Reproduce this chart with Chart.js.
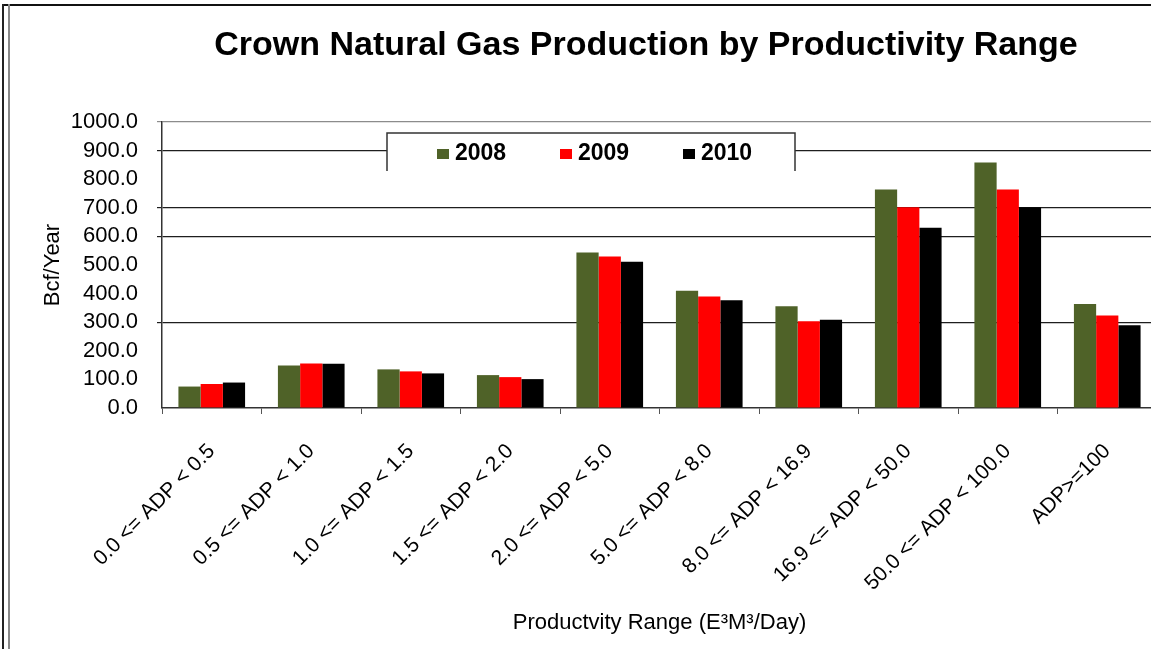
<!DOCTYPE html>
<html>
<head>
<meta charset="utf-8">
<title>Crown Natural Gas Production by Productivity Range</title>
<script src="https://cdn.jsdelivr.net/npm/chart.js@4.4.1/dist/chart.umd.min.js"></script>
<style>
  html, body { margin: 0; padding: 0; background: #fff; overflow: hidden; }
  #wrap { position: relative; width: 1151px; height: 649px; overflow: hidden; }
  #chart-box { position: absolute; left: 0; top: 0; width: 1160px; height: 649px; }
  h1 {
    position: absolute; left: 0; top: 26px; width: 1292px; margin: 0;
    text-align: center; font: bold 34px 'Liberation Sans', Arial, sans-serif;
    line-height: 1; color: #000;
  }
  .frame-top { position: absolute; left: 3px; top: 4px; right: 0; border-top: 2px solid #111; }
  .frame-left { position: absolute; left: 2px; top: 4px; bottom: 0; width: 4px;
    border-left: 2px solid #222; border-right: 2px solid #888; }
</style>
</head>
<body>
<div id="wrap">
  <div id="chart-box"><canvas id="gasChart" width="1160" height="649"></canvas></div>
  <h1>Crown Natural Gas Production by Productivity Range</h1>
  <div class="frame-top"></div>
  <div class="frame-left"></div>
</div>
<script>
// Productivity ranges (E3M3/day) and yearly production in Bcf
const categories = [
  '0.0 <= ADP < 0.5', '0.5 <= ADP < 1.0', '1.0 <= ADP < 1.5', '1.5 <= ADP < 2.0',
  '2.0 <= ADP < 5.0', '5.0 <= ADP < 8.0', '8.0 <= ADP < 16.9', '16.9 <= ADP < 50.0',
  '50.0 <= ADP < 100.0', 'ADP>=100'
];
const years = ['2008', '2009', '2010'];
const prod2008 = [75, 149, 135, 115, 544, 410, 356, 764, 858, 364];
const prod2009 = [84, 156, 128, 108, 530, 390, 303, 702, 764, 323];
const prod2010 = [89, 155, 121, 101, 511, 377, 309, 630, 702, 289];
const yearColors = ['#4f6228', '#ff0000', '#000000'];

// only these levels get a horizontal rule
const ruledLevels = [300, 600, 700, 900, 1000];

const FONT = "'Liberation Sans', Arial, sans-serif";

// boxed legend sitting on top of the plot area
const boxedLegend = {
  id: 'boxedLegend',
  afterDraw(chart) {
    const { ctx, chartArea } = chart;
    const left = chartArea.left + 225;
    const top = chartArea.top + 11;
    const w = 408, h = 38;
    ctx.save();
    ctx.fillStyle = '#fff';
    ctx.fillRect(left, top, w, h);
    ctx.strokeStyle = '#333';
    ctx.lineWidth = 1.5;
    ctx.beginPath();
    ctx.moveTo(left, top + h);
    ctx.lineTo(left, top);
    ctx.lineTo(left + w, top);
    ctx.lineTo(left + w, top + h);
    ctx.stroke();

    ctx.font = 'bold 23px ' + FONT;
    ctx.textBaseline = 'middle';
    chart.data.datasets.forEach((ds, i) => {
      const x = left + 50 + i * 123;
      const y = top + 21;
      ctx.fillStyle = ds.backgroundColor;
      ctx.fillRect(x, y - 5, 12, 10);
      ctx.fillStyle = '#000';
      ctx.fillText(ds.label, x + 18, y);
    });
    ctx.restore();
  }
};

const ctx = document.getElementById('gasChart').getContext('2d');
new Chart(ctx, {
  type: 'bar',
  data: {
    labels: categories,
    datasets: [
      { label: years[0], data: prod2008, backgroundColor: yearColors[0] },
      { label: years[1], data: prod2009, backgroundColor: yearColors[1] },
      { label: years[2], data: prod2010, backgroundColor: yearColors[2] }
    ]
  },
  options: {
    responsive: false,
    animation: false,
    layout: { padding: { top: 122, right: 3, left: 0, bottom: 0 } },
    datasets: {
      bar: { categoryPercentage: 0.67, barPercentage: 1.0 }
    },
    plugins: {
      legend: { display: false },
      title: { display: false },
      tooltip: { enabled: false }
    },
    scales: {
      x: {
        afterFit: (scale) => { scale.height = 241; },
        border: { color: '#333', width: 1.5 },
        grid: {
          drawOnChartArea: false,
          drawTicks: true,
          tickLength: 6,
          color: '#555'
        },
        ticks: {
          color: '#000',
          font: { family: FONT, size: 21 },
          minRotation: 45,
          maxRotation: 45,
          autoSkip: false,
          padding: 25
        },
        title: {
          display: true,
          text: 'Productvity Range (E³M³/Day)',
          color: '#000',
          font: { family: FONT, size: 22 },
          padding: { top: 0, bottom: 13 }
        }
      },
      y: {
        min: 0,
        max: 1000,
        afterFit: (scale) => { scale.width = 162; },
        border: { color: '#333', width: 1.5 },
        grid: {
          tickLength: 5,
          lineWidth: 1.2,
          color: (c) => {
            if (!ruledLevels.includes(c.tick.value)) return 'rgba(0,0,0,0)';
            return c.tick.value === 1000 ? '#8c8c8c' : '#1e1e1e';
          }
        },
        ticks: {
          stepSize: 100,
          autoSkip: false,
          color: '#000',
          font: { family: FONT, size: 22, lineHeight: 1 },
          padding: 19,
          callback: (v) => Number(v).toFixed(1)
        },
        title: {
          display: true,
          text: 'Bcf/Year',
          color: '#000',
          font: { family: FONT, size: 22 },
          padding: { top: 40, bottom: 0 }
        }
      }
    }
  },
  plugins: [boxedLegend]
});
</script>
</body>
</html>
